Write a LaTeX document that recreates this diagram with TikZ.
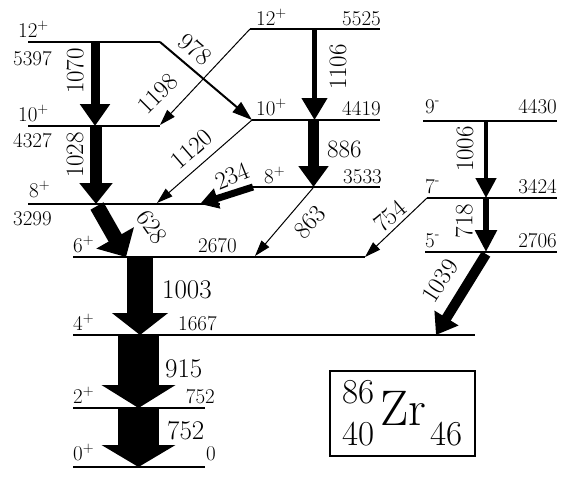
\documentclass[tikz,border=0pt]{standalone}
\usepackage{fontspec}
\usetikzlibrary{arrows.meta}
\newcommand\spinp{\raisebox{8pt}{\fontsize{15}{15}\selectfont +}}
\newcommand\spinm{\raisebox{9pt}{\fontsize{14}{14}\selectfont -}}
\tikzset{
 lvl/.style={line width=2pt},
 lvlb/.style={line width=2.6pt},
 en/.style={inner sep=0pt, font=\fontsize{21}{21}\selectfont},
 gl/.style={inner sep=0pt, font=\fontsize{25}{25}\selectfont},
 glb/.style={inner sep=0pt, font=\fontsize{27}{27}\selectfont},
 gam/.style n args={3}{line width=#1pt, -{Triangle[width=#2pt,length=#3pt]}},
 boxtxt/.style={inner sep=0pt, anchor=base west, font=\fontsize{35}{35}\selectfont},
}
\begin{document}
\begin{tikzpicture}[x=1pt,y=-1pt]
\useasboundingbox (0,0) rectangle (562,501);
% level coordinates
\coordinate (L12aW) at (28,42);  \coordinate (L12aE) at (160,42);
\coordinate (L10aW) at (28,126); \coordinate (L10aE) at (160,126);
\coordinate (L8aW) at (28,204);  \coordinate (L8aE) at (220,204);
\coordinate (L12bW) at (250,29); \coordinate (L12bE) at (380,29);
\coordinate (L10bW) at (252,120);\coordinate (L10bE) at (380,120);
\coordinate (L8bW) at (253,187); \coordinate (L8bE) at (380,187);
\coordinate (L6W) at (73,257);   \coordinate (L6E) at (365,257);
\coordinate (L4W) at (73,335);   \coordinate (L4E) at (475,335);
\coordinate (L2W) at (73,408);   \coordinate (L2E) at (205,408);
\coordinate (L0W) at (73,467);   \coordinate (L0E) at (205,467);
\coordinate (L9W) at (423,121);  \coordinate (L9E) at (557,121);
\coordinate (L7W) at (427,198);  \coordinate (L7E) at (557,198);
\coordinate (L5W) at (425,252);  \coordinate (L5E) at (557,252);
\foreach \l in {12a,10a,8a,12b,10b,8b,6,4,9,7,5}{\draw[lvl] (L\l W) -- (L\l E);}
\draw[lvlb] (L2W) -- (L2E);
\draw[lvlb] (L0W) -- (L0E);
% transition coordinates
\coordinate (a1070) at (95,42);   \coordinate (b1070) at (95,126);
\coordinate (a1028) at (96,126);  \coordinate (b1028) at (96,204);
\coordinate (a628) at (97,206);   \coordinate (b628) at (126,257);
\coordinate (a1003) at (140,257); \coordinate (b1003) at (140,335);
\coordinate (a915) at (138.5,335);\coordinate (b915) at (138.5,408);
\coordinate (a752) at (138.5,408);\coordinate (b752) at (138.5,467);
\coordinate (a1106) at (314.5,29);\coordinate (b1106) at (314.5,120);
\coordinate (a886) at (313.5,120);\coordinate (b886) at (313.5,187);
\coordinate (b1198) at (160,125);
\coordinate (b1120) at (157,203);
\coordinate (a863) at (313,188);  \coordinate (b863) at (255,256);
\coordinate (a1006) at (486,121); \coordinate (b1006) at (486,198);
\coordinate (a718) at (486,198);  \coordinate (b718) at (486,252);
\coordinate (a1039) at (486,254); \coordinate (b1039) at (436,335);
\coordinate (b234) at (200,204);
% transitions
\draw[gam={9}{29}{22}] (a1070) -- (b1070);
\draw[gam={12}{32}{21}] (a1028) -- (b1028);
\draw[gam={15}{42}{22}] (a628) -- (b628);
\draw[gam={26}{55}{22}] (a1003) -- (b1003);
\draw[gam={41}{73}{23}] (a915) -- (b915);
\draw[gam={41}{73}{22}] (a752) -- (b752);
\draw[gam={4.5}{25}{22}] (a1106) -- (b1106);
\draw[gam={11}{29}{21}] (a886) -- (b886);
\draw[gam={4.5}{20}{20}] (a1006) -- (b1006);
\draw[gam={6}{21}{22}] (a718) -- (b718);
\draw[gam={10}{27}{20}] (a1039) -- (b1039);
\draw[gam={7}{20}{18}] (L8bW) -- (b234);
\draw[gam={2}{13}{20}] (L12aE) -- (L10bW);
\draw[gam={1}{10}{16}] (L12bW) -- (b1198);
\draw[gam={1}{10}{16}] (L10bW) -- (b1120);
\draw[gam={1}{10}{16}] (a863) -- (b863);
\draw[gam={1}{10}{16}] (L7W) -- (L6E);
% spins and energies
\node[en, anchor=base west] (s12a) at (18,37) {12\spinp};
\node[en, anchor=base west] (e12a) at (13,65) {5397};
\node[en, anchor=base west] (s10a) at (18,121) {10\spinp};
\node[en, anchor=base west] (e10a) at (13,147) {4327};
\node[en, anchor=base west] (s8a) at (29,197) {8\spinp};
\node[en, anchor=base west] (e8a) at (13,225) {3299};
\node[en, anchor=base west] (s6) at (73,252) {6\spinp};
\node[en, anchor=base west] (e6) at (198,252) {2670};
\node[en, anchor=base west] (s4) at (73,330) {4\spinp};
\node[en, anchor=base west] (e4) at (178,330) {1667};
\node[en, anchor=base west] (s2) at (73,403) {2\spinp};
\node[en, anchor=base east] (e2) at (215,403) {752};
\node[en, anchor=base west] (s0) at (73,460) {0\spinp};
\node[en, anchor=base east] (e0) at (216,460) {0};
\node[en, anchor=base west] (s12b) at (256,25) {12\spinp};
\node[en, anchor=base east] (e12b) at (381,25) {5525};
\node[en, anchor=base west] (s10b) at (256,115) {10\spinp};
\node[en, anchor=base east] (e10b) at (381,115) {4419};
\node[en, anchor=base west] (s8b) at (264,183) {8\spinp};
\node[en, anchor=base east] (e8b) at (382,183) {3533};
\node[en, anchor=base west] (s9) at (425,113) {9\spinm};
\node[en, anchor=base east] (e9) at (557,113) {4430};
\node[en, anchor=base west] (s7) at (425,193) {7\spinm};
\node[en, anchor=base east] (e7) at (557,193) {3424};
\node[en, anchor=base west] (s5) at (425,247) {5\spinm};
\node[en, anchor=base east] (e5) at (557,247) {2706};
% gamma labels
\node[gl, rotate=90] (t1070) at (75,71) {1070};
\node[gl, rotate=90] (t1028) at (75,155) {1028};
\node[gl, rotate=-40] (t978) at (195,49) {978};
\node[gl, rotate=45] (t1198) at (158,94) {1198};
\node[gl, rotate=41] (t1120) at (192,149) {1120};
\node[gl, rotate=22] (t234) at (232,176) {234};
\node[gl, rotate=90] (t1106) at (338,67) {1106};
\node[gl, anchor=base west] (t886) at (327,157) {886};
\node[gl, rotate=47] (t863) at (310,222) {863};
\node[gl, rotate=40] (t754) at (390,216) {754};
\node[gl, rotate=-55] (t628) at (152,227) {628};
\node[gl, rotate=90] (t1006) at (465,149) {1006};
\node[gl, rotate=90] (t718) at (464,221) {718};
\node[gl, rotate=57] (t1039) at (440,281) {1039};
\node[glb, anchor=base west] (t1003) at (162,298) {1003};
\node[glb, anchor=base west] (t915) at (165,377) {915};
\node[glb, anchor=base west] (t752) at (167,439) {752};
% nucleus box
\node[draw, line width=2pt, minimum width=145pt, minimum height=85pt, inner sep=0pt] (box) at (402.5,413.5) {};
\node[inner sep=0pt, anchor=base west, font=\fontsize{50}{50}\selectfont] (zr) at (380,425) {Zr};
\node[boxtxt] (n86) at (342,403) {86};
\node[boxtxt] (n40) at (342,445) {40};
\node[boxtxt] (n46) at (430,445) {46};
\end{tikzpicture}
\end{document}
